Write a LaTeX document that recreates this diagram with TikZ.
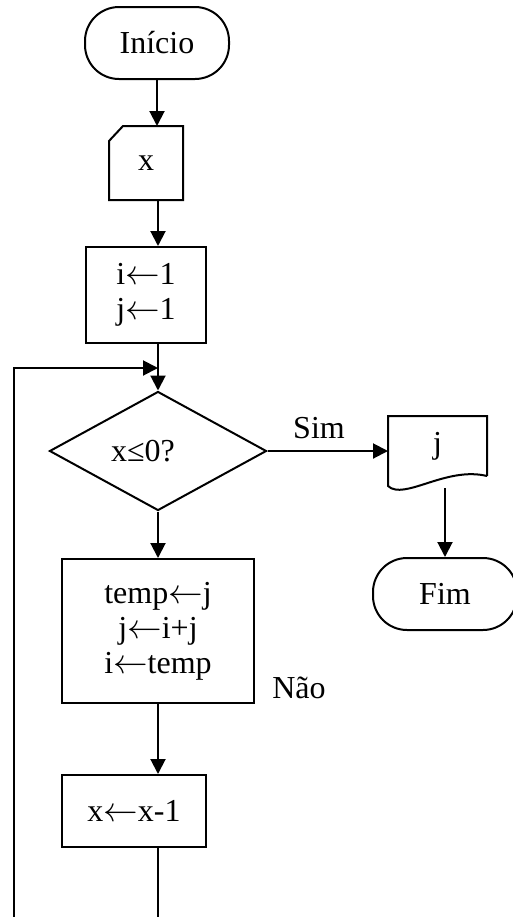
\documentclass[tikz,border=0pt]{standalone}
\usepackage{fontspec}
\setmainfont{Liberation Serif}
\usetikzlibrary{shapes.geometric,arrows.meta,calc}

\newcommand{\assign}{$\leftarrow$}

\begin{document}
\begin{tikzpicture}[
    x=0.5pt, y=-0.5pt,
    font=\fontsize{16}{17.5}\selectfont,
    line width=1pt,
    flow/.style={-{Triangle[length=7.5pt,width=7.5pt]}},
    terminal/.style={draw, rounded corners=17pt, minimum width=72pt, minimum height=36pt, inner sep=0pt},
    procbox/.style={draw, align=center, inner sep=0pt},
    decision/.style={draw, diamond, minimum width=108.5pt, minimum height=59.5pt, inner sep=0pt},
]

% Frame (pixel units, y downwards)
\useasboundingbox (0,0) rectangle (513,917);
\clip (0,0) rectangle (513,917);

% === Start and input ===
\node[terminal] (start) at (157,43) {Início};

\node[minimum width=36pt, minimum height=36pt, inner sep=0pt] (inp) at (146,163) {x};
\draw (inp.south west) -- (inp.south east) -- (inp.north east)
    -- ($(inp.north west)+(14,0)$) -- ($(inp.north west)+(0,15)$) -- cycle;

% === Initialisation ===
\node[procbox, minimum width=60pt, minimum height=48pt] (init) at (146,295) {i\assign1\\j\assign1};

% === Test ===
\node[decision, label={[xshift=-7.5pt]center:x≤0?}] (dec) at (158,451) {};
\coordinate (join) at (158,368);

% === Output j and end ===
\node[minimum width=48.5pt, minimum height=29pt, inner sep=0pt] (outj) at (437.5,446) {j};
\draw (outj.south east) -- (outj.north east) -- (outj.north west)
    -- ($(outj.south west)+(0,10)$) .. controls +(16,15) and +(-41,-10) .. (outj.south east);

\node[terminal] (fim) at (445,594) {Fim};

% === Loop body ===
\node[procbox, minimum width=96pt, minimum height=72pt] (body) at (158,631) {temp\assign j\\j\assign i+j\\i\assign temp};
\node[procbox, minimum width=72pt, minimum height=36pt] (decx) at (134,811) {x\assign x-1};

% Branch labels
\node (sim) at (319,428) {Sim};
\node (nao) at (299,688) {Não};

% Loop return, runs off the bottom edge
\coordinate (loopend) at (158,917);
\coordinate (loopleft) at (14,917);

% === Connectors ===
\draw[flow] (start.south) -- (start.south |- inp.north);
\draw[flow] (join |- inp.south) -- (join |- init.north);
\draw[flow] (join |- init.south) -- (dec.north);
\draw[flow] (loopleft) -- (loopleft |- join) -- (join);
\draw[flow] (dec.east) -- (dec.east -| outj.west);
\draw[flow] ($(outj.south -| fim.north)+(0,12)$) -- (fim.north);
\draw[flow] (dec.south) -- (body.north);
\draw[flow] (body.south) -- (body.south |- decx.north);
\draw (body.south |- decx.south) -- (loopend);

\end{tikzpicture}
\end{document}
